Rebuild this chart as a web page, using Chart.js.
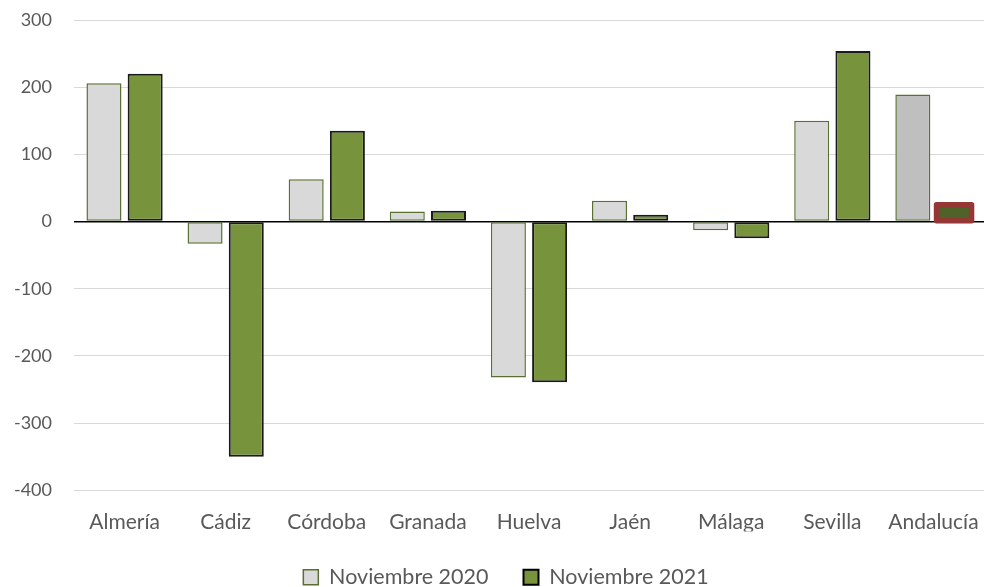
<!DOCTYPE html>
<html>
<head>
<meta charset="utf-8">
<script src="https://cdn.jsdelivr.net/npm/chart.js@4"></script>
<style>
  html, body { margin: 0; padding: 0; background: #fff; }
  #wrap { width: 984px; height: 587px; }
</style>
</head>
<body>
<div id="wrap"><canvas id="chart"></canvas></div>
<script>
// Datos
const provincias = ['Almería', 'Cádiz', 'Córdoba', 'Granada', 'Huelva', 'Jaén', 'Málaga', 'Sevilla', 'Andalucía'];
const nov2020 = [206, -33, 63, 15, -232, 31, -13, 150, 189];
const nov2021 = [220, -350, 135, 16, -239, 10, -25, 254, 25];
const serieNombres = ['Noviembre 2020', 'Noviembre 2021'];

const FONT = "Lato, 'Open Sans', sans-serif";
const TEXT = '#595959';
const DESTACADO = 'Andalucía';

// la barra de Andalucía va en otro tono
const fill2020 = provincias.map(p => p === DESTACADO ? '#BFBFBF' : '#D9D9D9');
const fill2021 = provincias.map(p => p === DESTACADO ? '#4F6228' : '#77933C');
const width2021 = provincias.map(p => p === DESTACADO ? 0 : 2);

// desplaza la leyenda a la derecha, como en el original
const legendShift = {
    id: 'legendShift',
    afterLayout(chart) {
        if (chart.legend) {
            chart.legend.left += 14;
            chart.legend.right += 14;
        }
    }
};

// recuadro rojo centrado sobre el borde de la barra destacada
const highlight = {
    id: 'highlight',
    afterDatasetsDraw(chart) {
        const idx = provincias.indexOf(DESTACADO);
        const bar = chart.getDatasetMeta(1).data[idx];
        if (!bar) return;
        const { x, y, base, width } = bar.getProps(['x', 'y', 'base', 'width'], true);
        const c = chart.ctx;
        c.save();
        c.strokeStyle = '#953735';
        c.lineWidth = 5.5;
        c.lineJoin = 'round';
        c.strokeRect(x - width / 2, Math.min(y, base), width, Math.abs(base - y));
        c.restore();
    }
};

const ctx = document.getElementById('chart').getContext('2d');
new Chart(ctx, {
    type: 'bar',
    data: {
        labels: provincias,
        datasets: [
            {
                label: serieNombres[0],
                data: nov2020,
                backgroundColor: fill2020,
                borderColor: '#5A7032',
                borderWidth: 1.5,
                borderSkipped: false,
                categoryPercentage: 0.815,
                barPercentage: 0.85
            },
            {
                label: serieNombres[1],
                data: nov2021,
                backgroundColor: fill2021,
                borderColor: '#1a1a1a',
                borderWidth: width2021,
                borderSkipped: false,
                categoryPercentage: 0.815,
                barPercentage: 0.85
            }
        ]
    },
    plugins: [legendShift, highlight],
    options: {
        responsive: true,
        maintainAspectRatio: false,
        animation: false,
        layout: {
            padding: { top: 20, right: 0, left: 0, bottom: -11 }
        },
        scales: {
            x: {
                grid: { display: true, drawOnChartArea: false, drawTicks: true, tickLength: 17, tickColor: 'transparent' },
                border: { display: false },
                ticks: {
                    color: TEXT,
                    padding: 2,
                    maxRotation: 0,
                    font: { family: FONT, size: 21 }
                },
                afterFit: scale => { scale.height -= 5; }
            },
            y: {
                min: -400,
                max: 300,
                ticks: {
                    stepSize: 100,
                    color: TEXT,
                    padding: 2,
                    font: { family: FONT, size: 18 }
                },
                border: { display: false },
                grid: {
                    drawTicks: true,
                    tickLength: 20,
                    tickColor: 'transparent',
                    lineWidth: ctx => ctx.tick && ctx.tick.value === 0 ? 1.5 : 1,
                    color: ctx => ctx.tick && ctx.tick.value === 0 ? '#000000' : '#D9D9D9'
                },
                afterFit: scale => { scale.width = 74; }
            }
        },
        plugins: {
            legend: {
                position: 'bottom',
                labels: {
                    color: TEXT,
                    boxWidth: 15,
                    boxHeight: 15,
                    padding: 35,
                    font: { family: FONT, size: 21.5 },
                    generateLabels: chart => [
                        { text: serieNombres[0], fillStyle: '#D9D9D9', strokeStyle: '#5A7032', lineWidth: 1.5, datasetIndex: 0, fontColor: TEXT },
                        { text: serieNombres[1], fillStyle: '#77933C', strokeStyle: '#000000', lineWidth: 2, datasetIndex: 1, fontColor: TEXT }
                    ]
                }
            },
            tooltip: { enabled: false }
        }
    }
});
</script>
</body>
</html>
